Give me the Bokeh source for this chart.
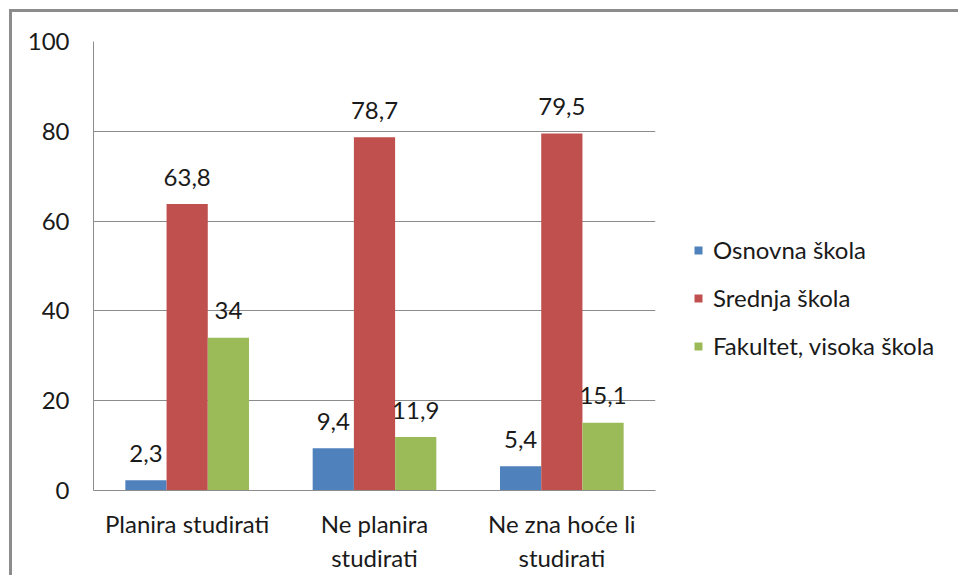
from bokeh.plotting import figure
from bokeh.models import ColumnDataSource, FactorRange, Legend, LegendItem, Range1d, FixedTicker
from bokeh.transform import dodge
from bokeh.core.properties import value
from bokeh.embed import file_html
from bokeh.resources import INLINE

categories = ["Planira studirati", "Ne planira\nstudirati", "Ne zna hoće li\nstudirati"]
series = ["Osnovna škola", "Srednja škola", "Fakultet, visoka škola"]
osnovna = [2.3, 9.4, 5.4]
srednja = [63.8, 78.7, 79.5]
fakultet = [34, 11.9, 15.1]
y_ticks = [0, 20, 40, 60, 80, 100]
colors = ["#4F81BD", "#C0504D", "#9BBB59"]

FONT = "Lato"
FS = "24px"

def fmt(v):
    return ("%g" % v).replace(".", ",")

src = ColumnDataSource(data=dict(
    cat=categories,
    osnovna=osnovna, srednja=srednja, fakultet=fakultet,
    l_os=[fmt(v) for v in osnovna],
    l_sr=[fmt(v) for v in srednja],
    l_fa=[fmt(v) for v in fakultet],
))

p = figure(x_range=FactorRange(*categories, range_padding=0), y_range=Range1d(0, 100),
           frame_width=562, frame_height=449, output_backend="svg", toolbar_location=None,
           min_border_left=81, min_border_top=29, min_border_right=0, min_border_bottom=20)
p.styles = {"border-left": "3px solid #8c8c8c", "border-top": "3px solid #8c8c8c",
            "margin-left": "9px", "margin-top": "9px"}
p.outline_line_color = None
p.background_fill_color = "white"
p.border_fill_color = "white"

bw = 0.22
keys = ["osnovna", "srednja", "fakultet"]
lkeys = ["l_os", "l_sr", "l_fa"]
offs = [-bw, 0, bw]
renderers = []
for k, lk, off, c in zip(keys, lkeys, offs, colors):
    r = p.vbar(x=dodge("cat", off, range=p.x_range), top=k, width=bw, source=src,
               fill_color=c, line_color=None)
    renderers.append(r)
    p.text(x=dodge("cat", off, range=p.x_range), y=k, text=lk, source=src,
           text_align="center", text_baseline="alphabetic", y_offset=-27,
           text_font=value(FONT), text_font_size=FS, text_color="#1a1a1a")

p.yaxis.ticker = FixedTicker(ticks=y_ticks)
p.yaxis.major_tick_line_color = None
p.yaxis.minor_tick_line_color = None
p.yaxis.axis_line_color = "#8c8c8c"
p.yaxis.major_label_standoff = 18
p.yaxis.major_label_text_font = FONT
p.yaxis.major_label_text_font_size = FS
p.yaxis.major_label_text_color = "#1a1a1a"

p.xaxis.major_tick_line_color = None
p.xaxis.axis_line_color = "#8c8c8c"
p.xaxis.major_label_standoff = 12
p.xaxis.major_label_text_font = FONT
p.xaxis.major_label_text_font_size = FS
p.xaxis.major_label_text_color = "#1a1a1a"

p.xgrid.grid_line_color = None
p.ygrid.grid_line_color = "#8c8c8c"
p.ygrid.ticker = FixedTicker(ticks=y_ticks)

legend = Legend(items=[LegendItem(label=s, renderers=[r]) for s, r in zip(series, renderers)],
                location=(38, 130), orientation="vertical",
                glyph_width=10, glyph_height=10, label_standoff=10,
                label_text_font=FONT, label_text_font_size=FS, label_text_color="#1a1a1a",
                spacing=19, padding=0, margin=0, border_line_color=None,
                background_fill_alpha=0, label_height=24)
p.add_layout(legend, "right")

open("out.html", "w").write(file_html(p, INLINE))
